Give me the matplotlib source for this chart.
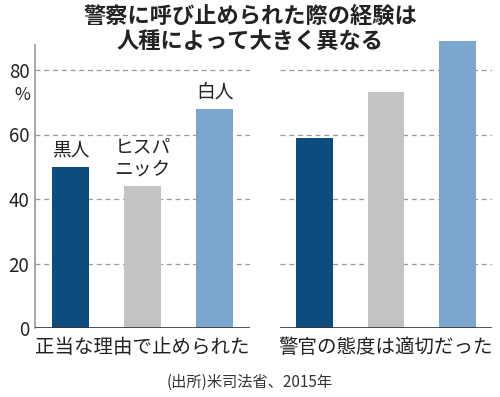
import matplotlib.pyplot as plt
plt.rcParams["font.family"] = ["Noto Sans CJK JP", "DejaVu Sans"]

groups = ["正当な理由で止められた", "警官の態度は適切だった"]
races = ["黒人", "ヒスパ\nニック", "白人"]
stopped_legit = [50.0, 44.1, 67.8]
officer_proper = [59.0, 73.3, 89.1]
yticks = [0, 20, 40, 60, 80]
colors = ["#0f4c7e", "#c4c3c1", "#7ba7cf"]

fig = plt.figure(figsize=(5.0, 3.97), dpi=100)
W, H = 500, 397

def px(x0, x1, y0, y1):
    return [x0 / W, 1 - y1 / H, (x1 - x0) / W, (y1 - y0) / H]

ax1 = fig.add_axes(px(35, 250, 45, 328))
ax2 = fig.add_axes(px(280, 492, 45, 328))
ymax = (328 - 45) / 3.225

for ax, vals, label in [(ax1, stopped_legit, groups[0]), (ax2, officer_proper, groups[1])]:
    ax.set_ylim(0, ymax)
    ax.set_xlim(-0.49, 2.49)
    for t in yticks[1:]:
        ax.axhline(t, color="#9a9a9a", lw=0.9, ls=(0, (4, 3)), zorder=0)
    bars = ax.bar(range(3), vals, width=0.52, color=colors, zorder=2)
    for b in bars:
        b.set_clip_on(False)
    ax.axhline(0, color="#333333", lw=1.2, zorder=3)
    for s in ax.spines.values():
        s.set_visible(False)
    ax.set_xticks([])
    ax.set_yticks([])
    ax.text(0.5, -0.068, label, transform=ax.transAxes, ha="center", va="center",
            fontsize=14, color="#222222")

ax1.spines["left"].set_visible(True)
ax1.spines["left"].set_color("#999999")
ax1.spines["left"].set_linewidth(1.2)
ax1.set_yticks(yticks)
ax1.set_yticklabels([str(t) for t in yticks], fontsize=13.5, color="#222222")
ax1.tick_params(axis="y", length=0, pad=4)
ax1.text(-0.06, 72.2, "%", transform=ax1.get_yaxis_transform(), ha="center", va="center",
         fontsize=12.5, color="#222222")

for i, (r, v) in enumerate(zip(races, stopped_legit)):
    ax1.text(i, v + 2.0, r, ha="center", va="bottom", fontsize=13.5,
             color="#222222", linespacing=1.05)

fig.text(0.5, 1 - 29 / H, "警察に呼び止められた際の経験は\n人種によって大きく異なる",
         ha="center", va="center", fontsize=16, fontweight="bold",
         color="#222222", linespacing=1.15)
fig.text(0.5, 1 - 382 / H, "(出所)米司法省、2015年", ha="center", va="center",
         fontsize=11, color="#333333")

fig.savefig("out.png", dpi=100)
